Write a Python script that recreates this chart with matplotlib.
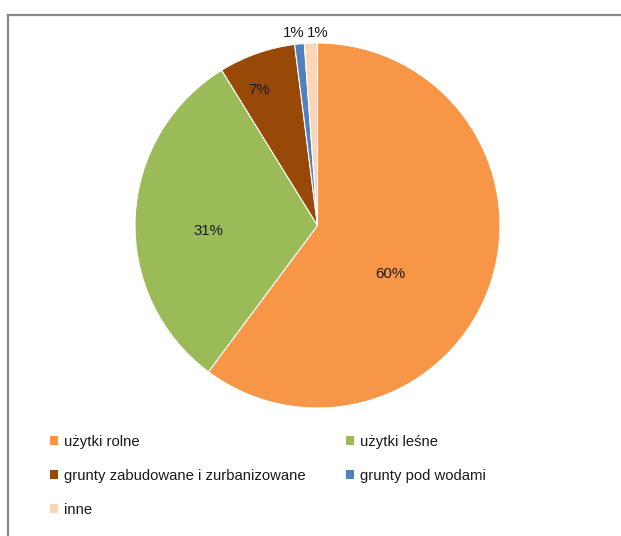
import matplotlib.pyplot as plt
from matplotlib.lines import Line2D
from matplotlib.patches import Patch

plt.rcParams['font.family'] = ['Liberation Sans', 'DejaVu Sans']

# ── Data ───────────────────────────────────────────────────────────────────────
categories = ["użytki rolne", "użytki leśne", "grunty zabudowane i zurbanizowane",
              "grunty pod wodami", "inne"]
shares     = [60.2, 31.0, 6.8, 0.85, 1.15]
pct_labels = ["60%", "31%", "7%", "1%", "1%"]
colors     = ["#F79646", "#9BBB59", "#984807", "#4F81BD", "#FCD5B5"]

# label positions (data coords, pie radius = 1)
label_pos  = [(0.40, -0.265), (-0.60, -0.03), (-0.32, 0.74), (-0.13, 1.055), (0.0, 1.055)]

W, H, DPI = 621, 536, 100
fig = plt.figure(figsize=(W / DPI, H / DPI), dpi=DPI)

# pie centre ~ (317, 225) px, radius ~ 182 px
cx, cy, r = 317.5, 225.5, 182.5
ax = fig.add_axes([(cx - r) / W, 1 - (cy + r) / H, 2 * r / W, 2 * r / H])
wedges, _ = ax.pie(shares, colors=colors, startangle=90, counterclock=False,
                   wedgeprops=dict(linewidth=0.8, edgecolor="white"))
ax.set_xlim(-1, 1)
ax.set_ylim(-1, 1)
ax.set_aspect("equal")
ax.axis("off")

for (x, y), lab in zip(label_pos, pct_labels):
    ax.text(x, y, lab, ha="center", va="center", fontsize=10.8, color="#1a1a1a",
            clip_on=False)

# chart frame (only top and left visible in the crop)
fig.add_artist(Line2D([8 / W, 8 / W], [0, 1 - 15 / H], transform=fig.transFigure,
                      color="#888888", lw=1.6))
fig.add_artist(Line2D([8 / W, 1], [1 - 15 / H, 1 - 15 / H], transform=fig.transFigure,
                      color="#888888", lw=1.6))

# legend, row-major order in 2 columns
order = [0, 2, 4, 1, 3]
handles = [Patch(facecolor=colors[i], edgecolor="none") for i in order]
leg = fig.legend(handles, [categories[i] for i in order], ncol=2,
                 loc="upper left", bbox_to_anchor=(50 / W, 1 - 435 / H),
                 frameon=False, fontsize=10.7, handlelength=0.54, handleheight=0.54,
                 handletextpad=0.4, labelspacing=1.35, columnspacing=2.72,
                 borderaxespad=0, borderpad=0)
for t in leg.get_texts():
    t.set_color("#1a1a1a")

fig.savefig("out.png", dpi=DPI)
